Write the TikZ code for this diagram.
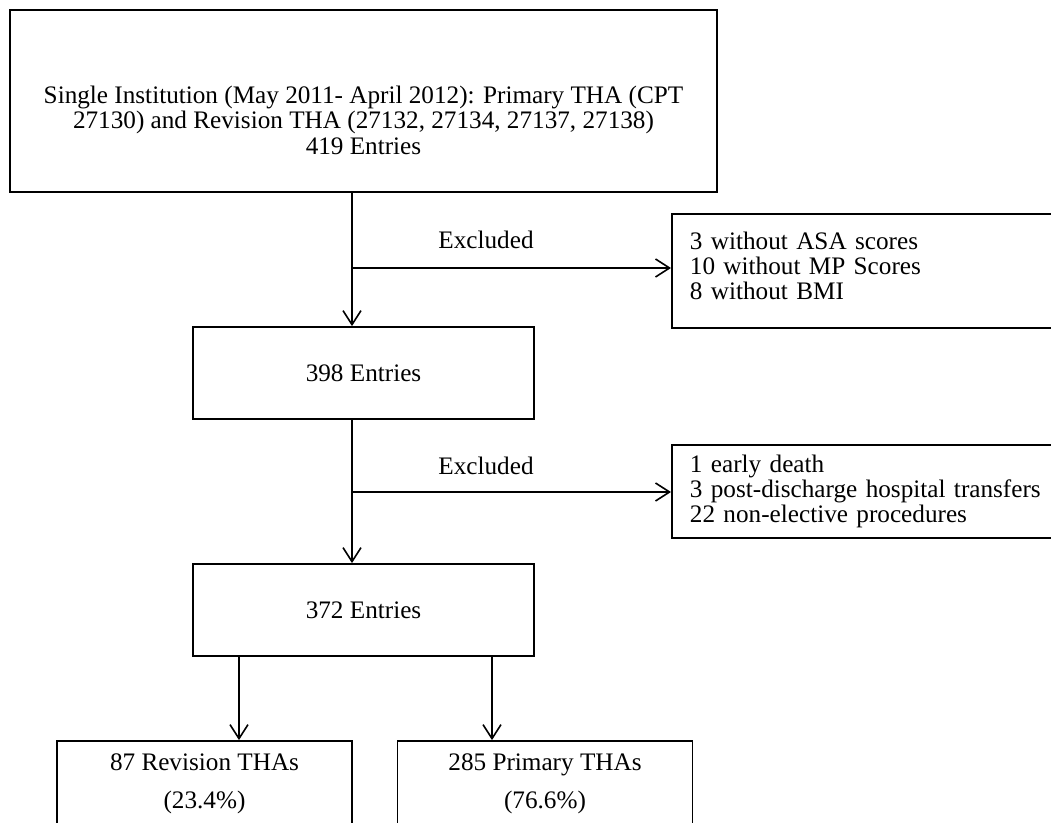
\documentclass[tikz,border=0pt]{standalone}
\usepackage{fontspec}
\setmainfont{Liberation Serif}
\usetikzlibrary{arrows.meta}
\begin{document}
\begin{tikzpicture}[x=0.5pt,y=-0.5pt,
  font=\fontsize{12.6}{14.6}\selectfont,
  box/.style={draw, line width=0.9pt, inner sep=0pt, align=center},
  lbox/.style={draw, line width=0.9pt, inner xsep=9pt, inner ysep=0pt, align=left, text width=182pt, anchor=north west, font=\fontsize{12.6}{12.6}\selectfont},
  bbox/.style={draw, line width=0.9pt, inner sep=0pt, align=center, minimum width=147.5pt, minimum height=43pt, font=\fontsize{12.6}{19}\selectfont},
  arr/.style={-{Straight Barb[length=7pt,width=9pt]}, line width=0.8pt},
  lab/.style={inner sep=0pt}
]
\useasboundingbox (0,0) rectangle (1051,823);
\clip (0,0) rectangle (1051,823);

\node[box, minimum width=353.5pt, minimum height=91pt, font=\fontsize{12.6}{12.8}\selectfont] (top) at (363.5,101)
  {\rule{0pt}{28pt}Single Institution (May 2011- April 2012): Primary THA (CPT\\27130) and Revision THA (27132, 27134, 27137, 27138)\\419 Entries};
\node[box, minimum width=170.5pt, minimum height=46pt] (e398) at (363.5,373) {398 Entries};
\node[box, minimum width=170.5pt, minimum height=46pt] (e372) at (363.5,610) {372 Entries};

\node[lbox, minimum height=57pt] (ex1) at (671,213)
  {3 without ASA scores\\10 without MP Scores\\8 without BMI\rule[-5pt]{0pt}{0pt}};
\node[lbox, minimum height=46.5pt] (ex2) at (671,444)
  {1 early death\\3 post-discharge hospital transfers\\22 non-elective procedures};

\node[bbox] (rev) at (204.5,784) {87 Revision THAs\\(23.4\%)};
\node[bbox] (pri) at (545,784) {285 Primary THAs\\(76.6\%)};

\node[lab] (l1) at (486,240) {Excluded};
\node[lab] (l2) at (486,466) {Excluded};

\coordinate (m) at (352,0);
\coordinate (j1) at (352,268);
\coordinate (j2) at (352,492);
\coordinate (a1) at (239,0);
\coordinate (a2) at (492,0);

\draw[arr] (top.south -| m) -- (e398.north -| m);
\draw[arr] (e398.south -| m) -- (e372.north -| m);
\draw[arr] (j1) -- (j1 -| ex1.west);
\draw[arr] (j2) -- (j2 -| ex2.west);
\draw[arr] (e372.south -| a1) -- (rev.north -| a1);
\draw[arr] (e372.south -| a2) -- (pri.north -| a2);
\end{tikzpicture}
\end{document}
